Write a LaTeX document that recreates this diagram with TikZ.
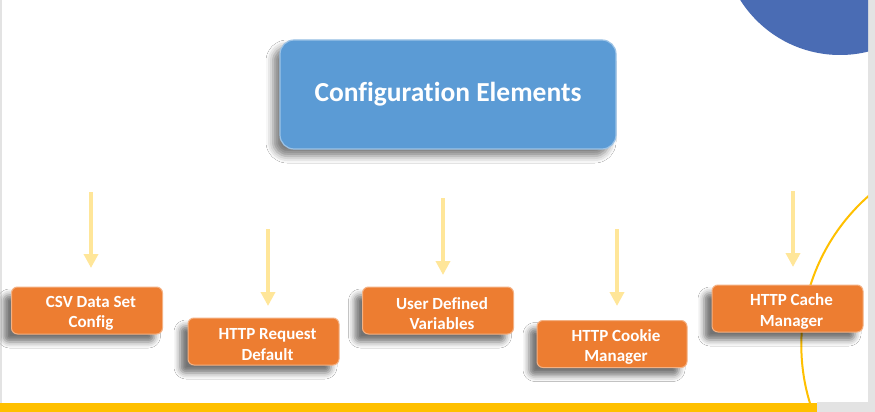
\documentclass[tikz,border=0pt]{standalone}
\usepackage{fontspec}
\setmainfont{Carlito}[Ligatures={NoCommon}]
\usetikzlibrary{shadows.blur,arrows.meta}
\definecolor{mainblue}{HTML}{5B9BD5}
\definecolor{mainblueedge}{HTML}{9DC3E6}
\definecolor{boxorange}{HTML}{ED7D31}
\definecolor{boxorangeedge}{HTML}{F4B183}
\definecolor{arrowyellow}{HTML}{FFE699}
\definecolor{baryellow}{HTML}{FFC000}
\definecolor{circblue}{HTML}{4A6CB4}
\definecolor{edgegray}{HTML}{E3E3E3}
\tikzset{
  mainbox/.style={draw=mainblueedge, line width=1.2pt, fill=mainblue, rounded corners=14pt,
    minimum width=336pt, minimum height=109pt, inner sep=0pt,
    text=white, font=\bfseries\fontsize{27.5}{32}\selectfont,
    blur shadow={shadow xshift=-7pt, shadow yshift=-7pt, shadow blur radius=7pt, shadow opacity=50}},
  obox/.style={draw=boxorangeedge, line width=1pt, fill=boxorange, rounded corners=6pt,
    minimum width=151pt, minimum height=47pt, inner sep=0pt,
    blur shadow={shadow xshift=-8pt, shadow yshift=-8pt, shadow blur radius=6pt, shadow opacity=55}},
  otext/.style={text=white, font=\bfseries\fontsize{17}{20.5}\selectfont, align=center, xshift=4pt, yshift=-3pt},
  flow/.style={draw=arrowyellow, line width=3.5pt, -{Triangle[width=14pt,length=14pt]}}
}
\begin{document}
\begin{tikzpicture}[x=1pt,y=-1pt]
\useasboundingbox (0,0) rectangle (875,412);
\fill[white] (0,0) rectangle (875,412);
% page edges
\fill[edgegray] (868,0) rectangle (875,412);
\fill[edgegray] (817,402) rectangle (875,412);
\fill[edgegray] (0,0) rectangle (1.5,412);
% decorative circles
\begin{scope}
  \clip (0,0) rectangle (868,412);
  \fill[circblue] (840,-63) circle[radius=118];
  \draw[baryellow, line width=2pt] (1000,345) circle[radius=198.7];
\end{scope}
% bottom bar
\fill[baryellow] (0,403) rectangle (817,412);
% nodes
\node[mainbox] (main) at (448,94.5) {Configuration Elements};
\node[obox, label={[otext]center:CSV Data Set\\Config}] (csv) at (87,310.5) {};
\node[obox, label={[otext]center:HTTP Request\\Default}] (req) at (263.5,341.5) {};
\node[obox, label={[otext]center:User Defined\\Variables}] (udv) at (438,310.5) {};
\node[obox, minimum width=150pt, label={[otext]center:HTTP Cookie\\Manager}] (cookie) at (612,344) {};
\node[obox, label={[otext]center:HTTP Cache\\Manager}] (cache) at (787.5,308.5) {};
% arrows
\coordinate (a1s) at (91,192);  \coordinate (a1e) at (91,268);
\coordinate (a2s) at (268,229); \coordinate (a2e) at (268,306);
\coordinate (a3s) at (443,198); \coordinate (a3e) at (443,275);
\coordinate (a4s) at (617,229); \coordinate (a4e) at (617,306);
\coordinate (a5s) at (793,191); \coordinate (a5e) at (793,267);
\draw[flow] (a1s) -- (a1e);
\draw[flow] (a2s) -- (a2e);
\draw[flow] (a3s) -- (a3e);
\draw[flow] (a4s) -- (a4e);
\draw[flow] (a5s) -- (a5e);
\end{tikzpicture}
\end{document}
